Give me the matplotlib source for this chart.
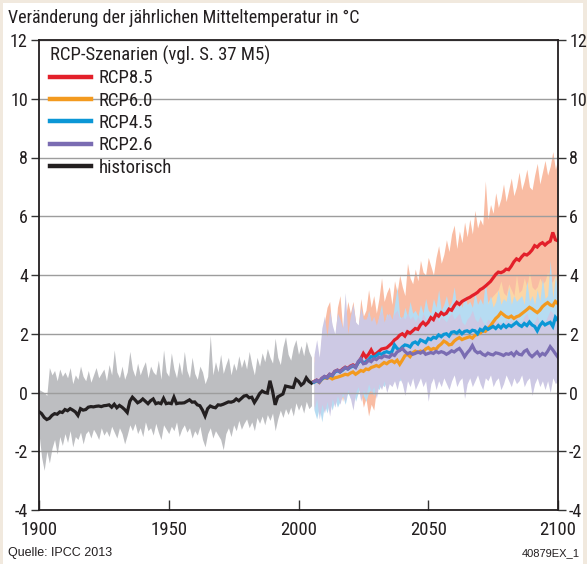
import numpy as np
import matplotlib
matplotlib.use("Agg")
import matplotlib.pyplot as plt
from matplotlib import font_manager as fm
from matplotlib.patches import Rectangle
from matplotlib.lines import Line2D

# ---------------- data ----------------
hist_start = 1900
hist_mean = [
    -0.65, -0.72, -0.85, -0.92, -0.88, -0.78, -0.72, -0.74, -0.66, -0.68,
    -0.58, -0.62, -0.55, -0.60, -0.66, -0.78, -0.55, -0.60, -0.58, -0.50,
    -0.48, -0.49, -0.47, -0.46, -0.48, -0.45, -0.44, -0.42, -0.50, -0.40,
    -0.52, -0.44, -0.50, -0.58, -0.68, -0.30, -0.16, -0.25, -0.35, -0.30,
    -0.22, -0.30, -0.38, -0.28, -0.22, -0.38, -0.35, -0.38, -0.20, -0.38,
    -0.36, -0.38, -0.16, -0.38, -0.36, -0.36, -0.35, -0.30, -0.25, -0.33,
    -0.32, -0.42, -0.45, -0.60, -0.80, -0.55, -0.46, -0.50, -0.52, -0.42,
    -0.43, -0.40, -0.36, -0.32, -0.33, -0.30, -0.22, -0.28, -0.20, -0.12,
    -0.10, -0.18, -0.16, -0.34, -0.20, -0.04, 0.05, 0.00, -0.02, 0.40,
    0.05, -0.42, -0.15, -0.10, -0.05, 0.22, 0.20, 0.18, 0.17, 0.45,
    0.38, 0.25, 0.32, 0.50, 0.38, 0.32]
hist_hi = [
    0.10, 0.05, 0.00, -0.10, 0.85, 0.60, 0.75, 0.40, 0.80, 0.55,
    0.70, 0.50, 0.85, 0.30, 0.60, 0.45, 0.90, 0.55, 0.40, 0.75,
    0.35, 0.60, 0.85, 0.50, 0.65, 0.80, 0.40, 0.95, 0.60, 1.45,
    0.70, 0.50, 0.90, 0.45, 0.70, 1.40, 0.80, 0.55, 1.00, 0.60,
    0.85, 1.05, 0.50, 0.90, 0.70, 0.60, 1.10, 0.45, 1.45, 0.70,
    0.55, 1.35, 0.80, 0.50, 1.05, 0.60, 1.40, 0.75, 0.50, 1.20,
    0.65, 0.45, 0.90, 0.70, 0.30, 0.55, 1.95, 0.60, 1.05, 0.70,
    1.30, 0.65, 0.95, 1.20, 0.60, 1.00, 0.75, 1.25, 0.85, 1.15,
    0.80, 1.40, 0.95, 0.60, 1.20, 0.90, 1.35, 1.05, 1.50, 1.20,
    1.00, 1.85, 1.20, 0.95, 1.55, 1.90, 1.30, 1.10, 1.55, 1.80,
    1.30, 1.60, 1.25, 1.75, 1.40, 1.20]
hist_lo = [
    -1.40, -2.20, -2.65, -2.00, -2.40, -1.90, -1.60, -2.10, -1.50, -1.80,
    -1.40, -1.70, -1.30, -1.85, -1.50, -1.60, -1.35, -1.75, -1.40, -1.30,
    -1.55, -1.25, -1.40, -1.60, -1.20, -1.45, -1.30, -1.50, -1.15, -1.35,
    -1.55, -1.20, -1.40, -1.75, -1.45, -1.10, -1.30, -1.05, -1.40, -1.20,
    -1.50, -1.00, -1.30, -1.20, -1.45, -1.05, -1.35, -1.60, -1.10, -1.25,
    -1.40, -1.15, -1.30, -1.00, -1.50, -1.25, -1.10, -1.35, -1.20, -1.55,
    -1.30, -1.45, -1.15, -1.60, -1.85, -1.40, -1.20, -1.55, -1.30, -1.45,
    -1.60, -1.95, -1.40, -1.20, -1.50, -1.10, -1.30, -0.95, -1.25, -1.05,
    -0.90, -1.20, -1.00, -1.30, -0.85, -1.05, -0.80, -1.10, -0.75, -0.95,
    -0.70, -1.30, -0.90, -0.60, -0.85, -0.55, -0.75, -0.50, -0.80, -0.35,
    -0.60, -0.40, -0.70, -0.30, -0.55, -0.45]

scen_start = 2006
rcp26 = [
    0.37, 0.42, 0.35, 0.48, 0.55, 0.50, 0.62, 0.58, 0.72, 0.76,
    0.70, 0.78, 0.85, 0.80, 0.88, 0.92, 0.85, 1.05, 1.15, 0.98,
    1.00, 1.10, 1.05, 1.15, 1.12, 1.20, 1.18, 1.25, 1.22, 1.20,
    1.30, 1.26, 1.38, 1.43, 1.50, 1.40, 1.32, 1.36, 1.30, 1.33,
    1.38, 1.34, 1.40, 1.30, 1.33, 1.36, 1.33, 1.40, 1.35, 1.39,
    1.36, 1.30, 1.35, 1.42, 1.38, 1.45, 1.50, 1.38, 1.22, 1.35,
    1.45, 1.60, 1.42, 1.35, 1.38, 1.30, 1.26, 1.34, 1.30, 1.28,
    1.35, 1.33, 1.30, 1.26, 1.32, 1.30, 1.35, 1.26, 1.38, 1.30,
    1.28, 1.40, 1.45, 1.30, 1.22, 1.30, 1.38, 1.25, 1.33, 1.28,
    1.40, 1.56, 1.45, 1.32, 1.20]
rcp45 = [
    0.35, 0.40, 0.36, 0.46, 0.52, 0.50, 0.60, 0.57, 0.70, 0.74,
    0.70, 0.76, 0.84, 0.80, 0.86, 0.90, 0.86, 1.02, 1.10, 1.00,
    1.05, 1.12, 1.22, 1.20, 1.25, 1.33, 1.30, 1.36, 1.39, 1.35,
    1.39, 1.62, 1.50, 1.45, 1.55, 1.62, 1.60, 1.55, 1.68, 1.72,
    1.65, 1.79, 1.75, 1.70, 1.84, 1.80, 1.88, 1.85, 1.96, 1.90,
    1.98, 2.00, 1.92, 2.05, 2.07, 2.02, 2.10, 2.00, 2.08, 2.10,
    2.05, 2.12, 2.10, 2.00, 2.15, 2.10, 2.22, 2.15, 2.20, 2.25,
    2.18, 2.28, 2.20, 2.30, 2.22, 2.30, 2.25, 2.32, 2.39, 2.30,
    2.25, 2.35, 2.28, 2.40, 2.30, 2.25, 2.10, 2.28, 2.39, 2.30,
    2.35, 2.39, 2.25, 2.56, 2.45]
rcp60 = [
    0.36, 0.40, 0.34, 0.45, 0.50, 0.48, 0.52, 0.46, 0.50, 0.52,
    0.55, 0.58, 0.62, 0.60, 0.66, 0.70, 0.62, 0.68, 0.75, 0.72,
    0.80, 0.78, 0.85, 0.88, 0.92, 0.88, 0.95, 1.02, 0.98, 1.05,
    1.08, 1.02, 1.10, 0.96, 1.10, 1.25, 1.30, 1.22, 1.35, 1.41,
    1.36, 1.41, 1.38, 1.48, 1.53, 1.45, 1.50, 1.47, 1.58, 1.65,
    1.75, 1.70, 1.62, 1.64, 1.75, 1.82, 1.87, 1.80, 1.84, 1.87,
    1.90, 1.85, 1.95, 1.98, 2.02, 2.10, 2.08, 2.18, 2.27, 2.40,
    2.52, 2.60, 2.72, 2.65, 2.58, 2.55, 2.60, 2.52, 2.58, 2.61,
    2.68, 2.75, 2.82, 2.90, 2.85, 2.78, 2.72, 2.80, 2.92, 3.00,
    3.06, 2.98, 2.95, 3.10, 3.02]
rcp85 = [
    0.38, 0.42, 0.37, 0.48, 0.54, 0.52, 0.62, 0.60, 0.72, 0.76,
    0.72, 0.80, 0.86, 0.82, 0.90, 0.94, 0.88, 1.02, 1.15, 1.33,
    1.20, 1.30, 1.45, 1.28, 1.33, 1.40, 1.48, 1.50, 1.52, 1.60,
    1.68, 1.79, 1.85, 1.95, 2.00, 1.92, 2.07, 2.02, 2.10, 2.18,
    2.15, 2.30, 2.39, 2.30, 2.39, 2.55, 2.48, 2.67, 2.60, 2.72,
    2.65, 2.70, 2.84, 2.80, 2.95, 3.07, 3.00, 3.10, 3.15, 3.20,
    3.24, 3.30, 3.35, 3.41, 3.50, 3.55, 3.62, 3.70, 3.78, 3.90,
    4.02, 4.10, 4.08, 4.12, 4.20, 4.18, 4.30, 4.45, 4.55, 4.50,
    4.62, 4.71, 4.68, 4.75, 4.85, 5.00, 4.95, 5.05, 5.10, 5.02,
    5.10, 5.15, 5.45, 5.20, 5.16]

rcp85_hi = [
    1.2, 1.6, 1.0, 2.0, 2.4, 2.9, 3.1, 2.1, 1.7, 2.9,
    3.3, 2.2, 2.5, 3.1, 2.7, 3.1, 2.4, 2.2, 3.2, 2.6,
    2.8, 3.5, 2.9, 3.3, 2.7, 3.2, 3.9, 3.1, 3.4, 3.6,
    3.0, 3.8, 3.4, 4.0, 3.6, 3.3, 4.4, 3.9, 3.7, 4.2,
    3.8, 4.5, 4.1, 4.0, 4.6, 4.3, 4.0, 4.6, 5.0, 4.4,
    4.7, 5.2, 4.8, 5.4, 5.7, 4.9, 5.5, 5.1, 5.8, 5.3,
    5.9, 5.4, 6.2, 5.6, 5.9, 5.7, 7.2, 5.9, 6.4, 6.1,
    6.8, 6.3, 6.6, 7.1, 6.5, 6.9, 7.3, 6.7, 7.0, 7.5,
    6.9, 7.2, 7.6, 7.0, 6.9, 7.4, 7.8, 7.1, 7.5, 7.9,
    7.4, 7.7, 8.2, 7.6, 8.0]
rcp85_lo = [
    -0.5, -0.2, -0.6, -0.3, -0.1, -0.4, 0.0, -0.3, 0.1, -0.2,
    0.1, -0.3, 0.2, 0.0, 0.3, -0.1, 0.2, 0.4, 0.0, -0.5,
    -0.2, -0.8, -0.4, -0.6, 0.1, 0.3, 0.5, 0.2, 0.6, 0.5,
    0.4, 0.7, 0.6, 0.8, 0.7, 0.9, 0.8, 1.0, 0.9, 1.1,
    1.0, 1.2, 1.1, 1.3, 1.2, 1.4, 1.3, 1.5, 1.4, 1.6,
    1.5, 1.7, 1.6, 1.8, 1.7, 1.9, 1.8, 2.0, 1.9, 2.1,
    2.0, 2.2, 2.1, 2.3, 2.2, 2.4, 2.3, 2.5, 2.4, 2.6,
    2.5, 2.7, 2.6, 2.8, 2.7, 2.9, 2.8, 3.0, 2.9, 3.1,
    3.0, 3.2, 3.1, 3.3, 3.2, 3.4, 3.3, 3.5, 3.4, 3.6,
    3.5, 3.7, 3.6, 3.8, 3.7]
rcp60_hi = [
    0.9, 1.1, 0.8, 1.2, 1.3, 1.1, 1.4, 1.2, 1.3, 1.5,
    1.3, 1.5, 1.6, 1.4, 1.7, 1.6, 1.5, 1.8, 1.7, 1.6,
    1.7, 1.6, 1.8, 1.7, 1.9, 1.8, 1.9, 2.0, 1.8, 2.0,
    1.9, 2.1, 2.0, 1.9, 2.1, 2.2, 2.3, 2.1, 2.3, 2.4,
    2.3, 2.4, 2.3, 2.5, 2.6, 2.4, 2.5, 2.5, 2.6, 2.7,
    2.7, 2.6, 2.5, 2.6, 2.8, 2.7, 2.9, 2.7, 2.8, 2.8,
    2.8, 2.7, 2.9, 2.9, 3.0, 3.0, 2.9, 3.1, 3.2, 3.3,
    3.4, 3.5, 3.8, 3.4, 3.3, 3.7, 3.5, 3.3, 4.0, 3.4,
    3.5, 3.9, 3.6, 4.1, 3.6, 3.5, 3.6, 3.9, 3.7, 3.8,
    4.1, 3.7, 3.8, 4.0, 3.8]
rcp60_lo = [
    -0.4, -0.2, -0.5, -0.2, -0.1, -0.3, 0.0, -0.2, -0.1, 0.0,
    0.0, 0.1, 0.1, 0.0, 0.2, 0.2, 0.1, 0.2, 0.3, 0.2,
    0.3, 0.3, 0.4, 0.4, 0.4, 0.4, 0.5, 0.5, 0.5, 0.6,
    0.6, 0.5, 0.6, 0.5, 0.6, 0.7, 0.8, 0.7, 0.8, 0.9,
    0.8, 0.9, 0.9, 1.0, 1.0, 0.9, 1.0, 1.0, 1.1, 1.1,
    1.2, 1.2, 1.1, 1.1, 1.2, 1.3, 1.3, 1.3, 1.3, 1.3,
    1.4, 1.3, 1.4, 1.4, 1.5, 1.6, 1.5, 1.6, 1.7, 1.8,
    1.9, 2.0, 2.1, 2.1, 2.0, 2.0, 2.0, 2.0, 2.0, 2.1,
    2.1, 2.2, 2.3, 2.3, 2.3, 2.2, 2.2, 2.3, 2.4, 2.5,
    2.5, 2.4, 2.4, 2.6, 2.5]
rcp45_hi = [
    1.0, 1.5, 0.9, 1.8, 2.2, 1.6, 2.3, 1.9, 1.6, 2.5,
    2.4, 2.0, 2.3, 1.8, 2.5, 2.8, 2.1, 2.0, 2.6, 2.3,
    2.3, 2.8, 2.4, 2.5, 2.2, 2.6, 3.0, 2.3, 2.7, 2.5,
    2.4, 3.0, 3.6, 2.6, 2.5, 2.9, 2.6, 3.1, 2.7, 2.8,
    2.6, 3.0, 2.7, 3.2, 2.8, 2.7, 3.2, 2.9, 3.5, 2.8,
    3.0, 3.3, 2.9, 3.1, 3.6, 2.9, 3.2, 2.9, 3.3, 3.0,
    3.1, 2.9, 3.4, 3.0, 3.2, 3.0, 3.8, 3.0, 3.3, 2.9,
    3.1, 3.5, 3.0, 3.2, 3.1, 3.6, 3.0, 3.3, 3.1, 3.2,
    3.3, 3.0, 3.8, 3.1, 3.3, 3.0, 3.5, 3.1, 3.9, 3.2,
    3.3, 4.5, 3.2, 4.0, 3.4]
rcp45_lo = [
    -0.6, -0.9, -0.5, -1.0, -0.4, -0.7, -0.3, -0.6, -0.2, -0.5,
    -0.3, -0.1, -0.4, 0.0, -0.2, 0.1, -0.3, 0.0, 0.2, -0.1,
    -0.3, 0.0, 0.1, -0.1, 0.2, 0.1, 0.3, 0.2, 0.4, 0.3,
    0.3, 0.5, 0.4, 0.4, 0.5, 0.5, 0.5, 0.4, 0.6, 0.6,
    0.6, 0.7, 0.6, 0.6, 0.7, 0.7, 0.8, 0.7, 0.9, 0.8,
    0.9, 0.9, 0.8, 0.9, 1.0, 0.9, 1.0, 0.9, 1.0, 1.0,
    1.0, 1.0, 1.0, 0.9, 1.0, 1.0, 1.1, 1.0, 1.1, 1.1,
    1.1, 1.2, 1.1, 1.2, 1.1, 1.2, 1.1, 1.2, 1.3, 1.2,
    1.2, 1.2, 1.2, 1.3, 1.2, 1.1, 1.0, 1.2, 1.3, 1.2,
    1.2, 1.3, 1.1, 1.4, 1.3]
rcp26_hi = [
    1.3, 1.8, 1.2, 2.2, 2.6, 1.9, 2.8, 2.3, 2.0, 2.7,
    2.5, 2.2, 3.4, 2.0, 2.6, 3.0, 2.4, 2.3, 2.9, 2.5,
    2.5, 2.7, 2.4, 2.6, 2.3, 2.6, 2.8, 2.4, 2.6, 2.7,
    2.5, 2.7, 2.8, 2.5, 2.6, 2.5, 2.7, 2.5, 2.6, 2.4,
    2.6, 2.4, 2.7, 2.5, 2.4, 2.6, 2.5, 2.7, 2.4, 2.6,
    2.5, 2.4, 2.6, 2.7, 2.5, 2.6, 2.7, 2.4, 2.3, 2.5,
    2.6, 2.8, 2.5, 2.4, 2.6, 2.4, 2.3, 2.5, 2.4, 2.4,
    2.5, 2.4, 2.4, 2.3, 2.5, 2.4, 2.5, 2.3, 2.6, 2.4,
    2.4, 2.6, 2.7, 2.4, 2.3, 2.4, 2.6, 2.3, 2.5, 2.4,
    2.6, 2.8, 2.7, 2.5, 2.4]
rcp26_lo = [
    -0.6, -0.2, -0.9, -0.4, -0.7, -0.3, -0.8, -0.2, -0.5, -0.1,
    -0.4, 0.0, -0.3, 0.1, -0.2, -0.6, 0.0, 0.2, -0.3, 0.1,
    -0.1, 0.3, 0.0, 0.2, -0.2, 0.3, 0.1, 0.4, 0.0, 0.3,
    0.2, 0.4, 0.1, 0.5, 0.3, -0.1, 0.4, 0.2, 0.5, 0.1,
    0.3, 0.5, 0.2, 0.4, -0.3, 0.3, 0.5, 0.1, 0.4, 0.2,
    0.5, 0.3, 0.1, 0.4, 0.6, 0.2, 0.4, 0.5, -0.2, 0.3,
    0.5, 0.2, 0.4, 0.6, 0.3, 0.1, 0.5, 0.4, 0.6, 0.2,
    0.4, 0.5, 0.1, 0.3, 0.6, 0.4, 0.2, 0.5, 0.3, 0.4,
    0.6, 0.2, 0.4, 0.5, -0.1, 0.3, 0.5, 0.2, 0.4, 0.1,
    0.4, 0.0, 0.5, 0.3, 0.4]

legend_title = "RCP-Szenarien (vgl. S. 37 M5)"
legend_labels = ["RCP8.5", "RCP6.0", "RCP4.5", "RCP2.6", "historisch"]
x_ticks = [1900, 1950, 2000, 2050, 2100]
y_ticks = [-4, -2, 0, 2, 4, 6, 8, 10, 12]
title = "Veränderung der jährlichen Mitteltemperatur in °C"
source = "Quelle: IPCC 2013"
code = "40879EX_1"


# ---------------- fonts ----------------
def pick_narrow():
    names = {f.name for f in fm.fontManager.ttflist}
    for n in ["Liberation Sans Narrow", "Arial Narrow", "Roboto Condensed",
              "Open Sans Condensed", "DejaVu Sans Condensed", "Noto Sans Condensed"]:
        if n in names:
            return {"family": n}
    cands = []
    for f in fm.fontManager.ttflist:
        if f.stretch in ("condensed", "semi-condensed") and f.style == "normal" \
                and f.weight in (400, "normal", "regular", "book"):
            score = 0 if "Sans" in f.name else 1
            score += 0 if f.stretch == "condensed" else 0.5
            cands.append((score, f.fname))
    if cands:
        cands.sort()
        return {"fname": cands[0][1]}
    return {"family": "Roboto"}


NARROW = pick_narrow()


def fp(size):
    return fm.FontProperties(size=size, **NARROW)


REG = ["Liberation Sans", "DejaVu Sans"]

c_red, c_orange, c_blue, c_purple, c_black = "#e3202a", "#f39a1f", "#0b97d6", "#7a6cb2", "#231f20"
f_red, f_orange, f_blue, f_purple, f_gray = "#f9bca3", "#fcd6a6", "#b6dcf2", "#cdc9e4", "#bdbec1"
beige = "#f1e9de"
txt = "#231f20"

W, H = 587, 564
fig = plt.figure(figsize=(W / 100, H / 100), dpi=100)
fig.patch.set_facecolor(beige)
fig.add_artist(Rectangle((3 / W, 0), (583 - 3) / W, (H - 3) / H, transform=fig.transFigure,
                         facecolor="white", edgecolor="none", zorder=-10))

ax = fig.add_axes([39 / W, (H - 510) / H, (558 - 39) / W, (510 - 40) / H])
ax.set_facecolor("white")

hy = np.arange(hist_start, hist_start + len(hist_mean))
sy = np.arange(scen_start, scen_start + len(rcp26))

ax.fill_between(hy, hist_lo, hist_hi, color=f_gray, lw=0, zorder=1)
ax.fill_between(sy, rcp85_lo, rcp85_hi, color=f_red, lw=0, zorder=1)
ax.fill_between(sy, rcp60_lo, rcp60_hi, color=f_orange, lw=0, zorder=1)
ax.fill_between(sy, rcp45_lo, rcp45_hi, color=f_blue, lw=0, zorder=1)
ax.fill_between(sy, rcp26_lo, rcp26_hi, color=f_purple, lw=0, zorder=1)

lw = 2.3
ax.plot(hy, hist_mean, color=c_black, lw=lw, zorder=3, solid_joinstyle="miter")
ax.plot(sy, rcp85, color=c_red, lw=lw, zorder=3, solid_joinstyle="miter")
ax.plot(sy, rcp60, color=c_orange, lw=lw, zorder=3, solid_joinstyle="miter")
ax.plot(sy, rcp45, color=c_blue, lw=lw, zorder=3, solid_joinstyle="miter")
ax.plot(sy, rcp26, color=c_purple, lw=lw, zorder=3, solid_joinstyle="miter")

ax.set_xlim(1900, 2100)
ax.set_ylim(-4, 12)
ax.set_xticks(x_ticks)
ax.set_yticks(y_ticks)
ax.set_xticklabels([str(t) for t in x_ticks], fontproperties=fp(13.5))
ax.set_yticklabels([str(t) for t in y_ticks], fontproperties=fp(13))
for t in ax.yaxis.get_major_ticks():
    t.label1.set_fontproperties(fp(13))
    t.label2.set_fontproperties(fp(13))
ax.yaxis.grid(True, color="#9d9d9d", lw=1.0)
for gl in ax.get_ygridlines():
    gl.set_zorder(2)
for s in ax.spines.values():
    s.set_color(c_black)
    s.set_linewidth(1.3)
    s.set_zorder(4)
ax.tick_params(axis="y", which="both", direction="out", length=6, width=1.0, color="#333333",
               left=True, right=True, labelleft=True, labelright=True, pad=2, labelcolor=txt)
ax.tick_params(axis="x", direction="in", length=7, width=1.0, color="#333333",
               pad=8, labelcolor=txt)

handles = [Line2D([], [], color=c, lw=3.2) for c in (c_red, c_orange, c_blue, c_purple, c_black)]
leg = ax.legend(handles, legend_labels, title=legend_title, loc="upper left",
                bbox_to_anchor=(-0.002, 1.014), frameon=False, prop=fp(13.5),
                title_fontproperties=fp(13.5),
                handlelength=2.2, handletextpad=0.4, labelspacing=0.235, borderaxespad=0.35,
                borderpad=0.3, alignment="left")
leg.set_zorder(5)
for t in leg.get_texts():
    t.set_color(txt)
leg.get_title().set_color(txt)

fig.text(8 / W, 1 - 18 / H, title, fontproperties=fp(13), va="center", ha="left", color=txt)
fig.text(8 / W, 1 - 553 / H, source, fontsize=9, va="center", ha="left", color=txt, family=REG)
fig.text(580 / W, 1 - 553 / H, code, fontsize=8, va="center", ha="right", color=txt, family=REG)

fig.savefig("out.png", dpi=100, facecolor=fig.get_facecolor())
